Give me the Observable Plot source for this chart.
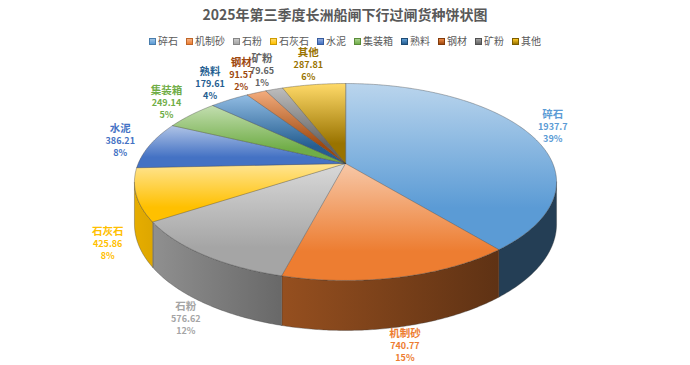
<!DOCTYPE html>
<html>
<head>
<meta charset="utf-8">
<script src="https://cdn.jsdelivr.net/npm/d3@7"></script>
<script src="https://cdn.jsdelivr.net/npm/@observablehq/plot@0.6"></script>
<style>
  body { margin: 0; background: #fff; }
  #chart { position: relative; width: 690px; height: 365px; font-family: "Noto Sans CJK SC", "Noto Sans", sans-serif; }
  #title { height: 28px; line-height: 28px; text-align: center; font-size: 14px; font-weight: bold; color: #595959; }
  #legend { position: absolute; top: 35px; left: 0; width: 690px; display: flex; justify-content: center; gap: 8px; font-size: 10px; line-height: 12px; color: #595959; z-index: 2; }
  .item { display: flex; align-items: center; }
  .sw { width: 7px; height: 7px; margin-right: 2px; box-sizing: border-box; }
  #chart svg { display: block; overflow: visible; }
</style>
</head>
<body>
<div id="chart">
  <div id="title">2025年第三季度长洲船闸下行过闸货种饼状图</div>
  <div id="legend"></div>
</div>
<script>
// ---- data ----
const categories = ["碎石", "机制砂", "石粉", "石灰石", "水泥", "集装箱", "熟料", "钢材", "矿粉", "其他"];
const values = [1937.7, 740.77, 576.62, 425.86, 386.21, 249.14, 179.61, 91.57, 79.65, 287.81];
const percentLabels = ["39%", "15%", "12%", "8%", "8%", "5%", "4%", "2%", "1%", "6%"];
const colors = ["#5B9BD5", "#ED7D31", "#A5A5A5", "#FFC000", "#4472C4", "#70AD47", "#255E91", "#9E480E", "#636363", "#997300"];

// ---- 3D pie geometry (layout) ----
const CX = 345, CY = 163, A = 207.3, B = 95, P = 0.1878, H = 40.6;
const TOP = 28, SVGH = 365 - TOP;
function proj(t, down = 0) {
  const X = Math.sin(t), Z = Math.cos(t), w = 1 + P * Z;
  return [CX + A * X / w, CY - B * Z / w + down * H / w];
}
function arcPts(a0, a1, down) {
  const n = Math.max(2, Math.ceil(Math.abs(a1 - a0) / 0.01));
  return d3.range(n + 1).map(k => proj(a0 + (a1 - a0) * k / n, down));
}

const arcs = d3.pie().sort(null).startAngle(0).endAngle(2 * Math.PI)(values);
const T0 = Math.acos(-P), T1 = 2 * Math.PI - Math.acos(-P);

const topFaces = arcs.map((a, i) => {
  const pts = [[CX, CY], ...arcPts(a.startAngle, a.endAngle, 0)];
  return pts.map(([x, y]) => ({i, x, y}));
});
const walls = arcs.map((a, i) => {
  const s = Math.max(a.startAngle, T0), e = Math.min(a.endAngle, T1);
  if (s >= e) return null;
  const pts = [...arcPts(s, e, 0), ...arcPts(e, s, 1)];
  return pts.map(([x, y]) => ({i, x, y}));
});

const labels = arcs.map((a, i) => {
  const m = (a.startAngle + a.endAngle) / 2;
  let [x, y] = proj(m, 0);
  const c = Math.cos(m), s = Math.sin(m);
  if (c < 0) y += H / (1 + P * c);
  x += (s < 0 ? 30 : 25) * s; y += -20 * c;
  return {name: categories[i], value: String(values[i]), pct: percentLabels[i], x, y, color: colors[i]};
});

const lineStyle = {stroke: "#3a3a3a", strokeWidth: 0.45, strokeOpacity: 0.8, curve: "linear-closed"};
const marks = [];
walls.forEach((w, i) => { if (w) marks.push(Plot.line(w, {x: "x", y: "y", fill: `url(#wall${i})`, ...lineStyle})); });
topFaces.forEach((f, i) => marks.push(Plot.line(f, {x: "x", y: "y", fill: `url(#top${i})`, ...lineStyle})));
const font = "Noto Sans CJK SC";
marks.push(Plot.text(labels, {x: "x", y: "y", text: "name", fill: "color", dy: -12.5, fontSize: 10.5, fontWeight: "bold", fontFamily: font}));
marks.push(Plot.text(labels, {x: "x", y: "y", text: "value", fill: "color", dy: 0, fontSize: 9, fontWeight: "bold", fontFamily: font}));
marks.push(Plot.text(labels, {x: "x", y: "y", text: "pct", fill: "color", dy: 12, fontSize: 9, fontWeight: "bold", fontFamily: font}));

const svg = Plot.plot({
  width: 690, height: SVGH, margin: 0,
  x: {domain: [0, 690], range: [0, 690], axis: null},
  y: {domain: [TOP, 365], range: [0, SVGH], axis: null},
  color: {type: "identity"},
  style: {background: "transparent", fontFamily: font},
  marks
});

// gradients
const defs = d3.select(svg).insert("defs", ":first-child");
const wallStops = [[0, 0.9], [0.351, 0.63], [0.86, 0.4], [1, 0.4]];
colors.forEach((c, i) => {
  const base = d3.rgb(c), hsl = d3.hsl(c);
  const light = d3.hsl(hsl.h, hsl.s, hsl.l + (1 - hsl.l) * 0.58).rgb();
  const g = defs.append("linearGradient").attr("id", `top${i}`).attr("x1", 0).attr("y1", 0).attr("x2", 0).attr("y2", 1);
  g.append("stop").attr("offset", 0).attr("stop-color", light.formatHex());
  g.append("stop").attr("offset", 0.75).attr("stop-color", base.formatHex());
  g.append("stop").attr("offset", 1).attr("stop-color", base.formatHex());
  const k = f => d3.rgb(base.r * f, base.g * f, base.b * f).formatHex();
  const w = defs.append("linearGradient").attr("id", `wall${i}`).attr("gradientUnits", "userSpaceOnUse")
    .attr("x1", 134).attr("y1", 0).attr("x2", 556).attr("y2", 0);
  wallStops.forEach(([o, f]) => w.append("stop").attr("offset", o).attr("stop-color", k(f)));
});

document.getElementById("chart").appendChild(svg);

// legend
const legend = d3.select("#legend");
categories.forEach((name, i) => {
  const it = legend.append("div").attr("class", "item");
  const base = d3.rgb(colors[i]);
  const hsl = d3.hsl(colors[i]);
  const light = d3.hsl(hsl.h, hsl.s, hsl.l + (1 - hsl.l) * 0.4).rgb();
  it.append("div").attr("class", "sw")
    .style("background", `linear-gradient(${light.formatHex()}, ${base.formatHex()})`)
    .style("border", `0.5px solid ${base.darker(0.6).formatHex()}`);
  it.append("span").text(name);
});
</script>
</body>
</html>
